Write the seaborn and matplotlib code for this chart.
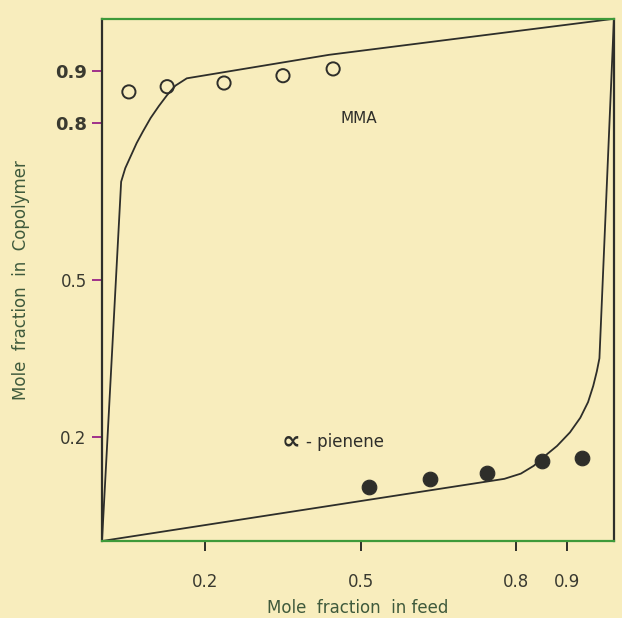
import matplotlib
matplotlib.use("Agg")
import matplotlib.pyplot as plt
import pandas as pd
import seaborn as sns

sns.set_style("ticks")
plt.rcParams['font.family'] = ['DejaVu Sans']

# MMA copolymer composition curve and measured points
mma_curve_x = [0.0, 0.037, 0.045, 0.056, 0.067, 0.079, 0.094, 0.110, 0.126,
               0.142, 0.164, 0.439, 0.99]
mma_curve_y = [0.0, 0.688, 0.714, 0.738, 0.762, 0.784, 0.810, 0.833, 0.854,
               0.872, 0.886, 0.931, 1.0]
mma_pts_x = [0.052, 0.126, 0.236, 0.350, 0.447]
mma_pts_y = [0.860, 0.870, 0.877, 0.891, 0.904]

# alpha-pinene curve and measured points
pin_curve_x = [0.0, 0.778, 0.810, 0.835, 0.853, 0.880, 0.905, 0.925, 0.940,
               0.950, 0.957, 0.962, 0.99]
pin_curve_y = [0.0, 0.119, 0.129, 0.144, 0.160, 0.182, 0.208, 0.236, 0.266,
               0.297, 0.325, 0.350, 1.0]
pin_pts_x = [0.516, 0.634, 0.745, 0.851, 0.928]
pin_pts_y = [0.103, 0.119, 0.130, 0.153, 0.159]

xticks = [0.2, 0.5, 0.8, 0.9]
yticks = [0.2, 0.5, 0.8, 0.9]

bg = "#f8edbd"
ink = "#2e2e2a"
green = "#3e9a3a"
label_col = "#3f5a3c"

fig = plt.figure(figsize=(6.22, 6.18), dpi=100, facecolor=bg)
ax = fig.add_axes([0.164, 0.1246, 0.823, 0.845])
ax.set_facecolor(bg)

mma_curve = pd.DataFrame({"x": mma_curve_x, "y": mma_curve_y})
pin_curve = pd.DataFrame({"x": pin_curve_x, "y": pin_curve_y})
sns.lineplot(data=mma_curve, x="x", y="y", sort=False, color=ink, lw=1.3, ax=ax)
sns.lineplot(data=pin_curve, x="x", y="y", sort=False, color=ink, lw=1.3, ax=ax)

sns.scatterplot(x=mma_pts_x, y=mma_pts_y, marker="o", s=90, facecolor="none",
                edgecolor=ink, linewidth=1.4, ax=ax)
sns.scatterplot(x=pin_pts_x, y=pin_pts_y, marker="o", s=110, color=ink,
                edgecolor=ink, ax=ax)

ax.text(0.462, 0.81, "MMA", fontsize=11, color=ink, ha="left", va="center")
ax.text(0.348, 0.19, "∝", fontsize=19, fontweight="bold", color=ink,
        ha="left", va="center")
ax.text(0.395, 0.19, "- pienene", fontsize=12, color=ink, ha="left", va="center")

ax.set_xlim(0, 0.99)
ax.set_ylim(0, 1.0)
ax.set_xticks(xticks)
ax.set_yticks(yticks)
ax.set_xticklabels([str(t) for t in xticks], fontsize=12, color="#3a3a30")
ax.set_yticklabels([str(t) for t in yticks], fontsize=12, color="#3a3a30")
for lab in ax.get_yticklabels():
    if lab.get_text() in ("0.9", "0.8"):
        lab.set_fontweight("bold")
        lab.set_fontsize(13)
ax.tick_params(axis="x", length=7, width=1.4, color=ink, pad=16)
ax.tick_params(axis="y", length=7, width=1.4, color="#a0308a", pad=4)

for side in ["left", "right"]:
    ax.spines[side].set_color(ink)
    ax.spines[side].set_linewidth(1.6)
for side in ["top", "bottom"]:
    ax.spines[side].set_color(green)
    ax.spines[side].set_linewidth(1.6)

ax.set_xlabel("Mole  fraction  in feed", fontsize=12, color=label_col, labelpad=6)
ax.set_ylabel("Mole  fraction  in  Copolymer", fontsize=12, color=label_col, labelpad=18)

fig.savefig("out.png", dpi=100, facecolor=bg)
